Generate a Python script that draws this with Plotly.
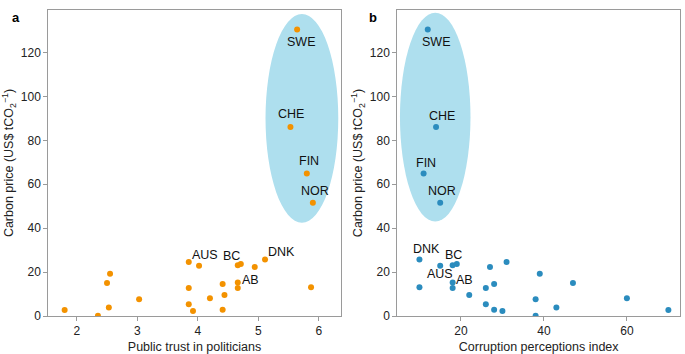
import plotly.graph_objects as go

# Data
carbon_price = [130.5, 86.1, 64.9, 51.6, 25.7, 24.6, 22.9, 23.1, 23.7, 22.3, 15.3, 15.0, 14.6,
                13.1, 12.8, 12.8, 9.6, 8.1, 7.6, 5.3, 3.9, 2.9, 2.7, 2.3, 19.3, 0.15]
public_trust = [5.64, 5.53, 5.80, 5.90, 5.11, 3.85, 4.02, 4.66, 4.71, 4.94, 4.66, 2.50, 4.41,
                5.87, 4.66, 3.85, 4.44, 4.20, 3.03, 3.85, 2.53, 4.41, 1.80, 3.92, 2.55, 2.35]
corruption_index = [12, 14, 11, 15, 10, 31, 15, 18, 19, 27, 18, 47, 28,
                    10, 18, 26, 22, 60, 38, 26, 43, 28, 70, 30, 39, 38]
labels = ["SWE", "CHE", "FIN", "NOR", "DNK", "", "AUS", "BC", "", "", "AB", "", "",
          "", "", "", "", "", "", "", "", "", "", "", "", ""]

# label offsets (pixels) per panel
shift_a = {"SWE": (4, -12), "CHE": (1, 13), "FIN": (2, 13), "NOR": (2, 12),
           "AUS": (6, 11), "BC": (-6, 9), "DNK": (16, 8), "AB": (13, 2)}
shift_b = {"SWE": (8, -12), "CHE": (6, 11), "FIN": (2, 11), "NOR": (2, 12),
           "DNK": (7, 11), "BC": (1, 10), "AUS": (0, -8), "AB": (12, 2)}

ORANGE = "#F39200"
BLUE = "#2B8CBE"
ELLIPSE = "#AEDFEE"
FRAME = "#9A9A9A"
FONT = "Liberation Sans, Arial, Helvetica, sans-serif"
W, H = 685, 354

fig = go.Figure()
fig.add_trace(go.Scatter(x=public_trust, y=carbon_price, mode="markers",
                         marker=dict(color=ORANGE, size=6), xaxis="x", yaxis="y",
                         showlegend=False, hoverinfo="skip"))
fig.add_trace(go.Scatter(x=corruption_index, y=carbon_price, mode="markers",
                         marker=dict(color=BLUE, size=6), xaxis="x2", yaxis="y2",
                         showlegend=False, hoverinfo="skip"))

annotations = []
for lab, xa, xb, y in zip(labels, public_trust, corruption_index, carbon_price):
    if not lab:
        continue
    dx, dy = shift_a[lab]
    annotations.append(dict(x=xa, y=y, xref="x", yref="y", text=lab, showarrow=False,
                            xshift=dx, yshift=dy, font=dict(size=12.5, color="#111")))
    dx, dy = shift_b[lab]
    annotations.append(dict(x=xb, y=y, xref="x2", yref="y2", text=lab, showarrow=False,
                            xshift=dx, yshift=dy, font=dict(size=12.5, color="#111")))

annotations.append(dict(x=10 / W, y=1 - 8 / H, xref="paper", yref="paper", text="<b>a</b>",
                        showarrow=False, font=dict(size=13, color="#000")))
annotations.append(dict(x=373 / W, y=1 - 8 / H, xref="paper", yref="paper", text="<b>b</b>",
                        showarrow=False, font=dict(size=13, color="#000")))

shapes = [
    dict(type="circle", xref="x", yref="y", x0=5.118, x1=6.32, y0=42.5, y1=137.6,
         fillcolor=ELLIPSE, line=dict(width=0), layer="below"),
    dict(type="circle", xref="x2", yref="y2", x0=5.3, x1=22.3, y0=43.0, y1=138.2,
         fillcolor=ELLIPSE, line=dict(width=0), layer="below"),
]

axis_common = dict(showgrid=False, zeroline=False, showline=True, linecolor=FRAME, linewidth=1,
                   mirror=True, ticks="outside", ticklen=4, tickcolor=FRAME, tickwidth=1,
                   automargin=False, tickfont=dict(size=12, color="#222"))

ytitle = "Carbon price (US$ tCO<sub>2</sub><sup>\u22121</sup>)"

fig.update_layout(
    width=W, height=H,
    margin=dict(l=0, r=0, t=0, b=0),
    paper_bgcolor="white", plot_bgcolor="white",
    font=dict(family=FONT, color="#222"),
    hovermode=False,
    xaxis=dict(domain=[48.3 / W, 340.7 / W], range=[1.53, 6.36], tickvals=[2, 3, 4, 5, 6],
               title=dict(text="Public trust in politicians", font=dict(size=12.5), standoff=6),
               anchor="y", **axis_common),
    yaxis=dict(domain=[1 - 316 / H, 1 - 10 / H], range=[0, 139.4], tickvals=[0, 20, 40, 60, 80, 100, 120],
               title=dict(text=ytitle, font=dict(size=12.5), standoff=4),
               anchor="x", **axis_common),
    xaxis2=dict(domain=[397.3 / W, 680 / W], range=[4.66, 72.8], tickvals=[20, 40, 60],
                title=dict(text="Corruption perceptions index", font=dict(size=12.5), standoff=6),
                anchor="y2", **axis_common),
    yaxis2=dict(domain=[1 - 316 / H, 1 - 10 / H], range=[0, 139.4], tickvals=[0, 20, 40, 60, 80, 100, 120],
                title=dict(text=ytitle, font=dict(size=12.5), standoff=4),
                anchor="x2", **axis_common),
    shapes=shapes,
    annotations=annotations,
)

fig.write_html("out.html", config={"displayModeBar": False, "staticPlot": True},
               post_script="document.body.style.margin='0';document.body.style.overflow='hidden';")
